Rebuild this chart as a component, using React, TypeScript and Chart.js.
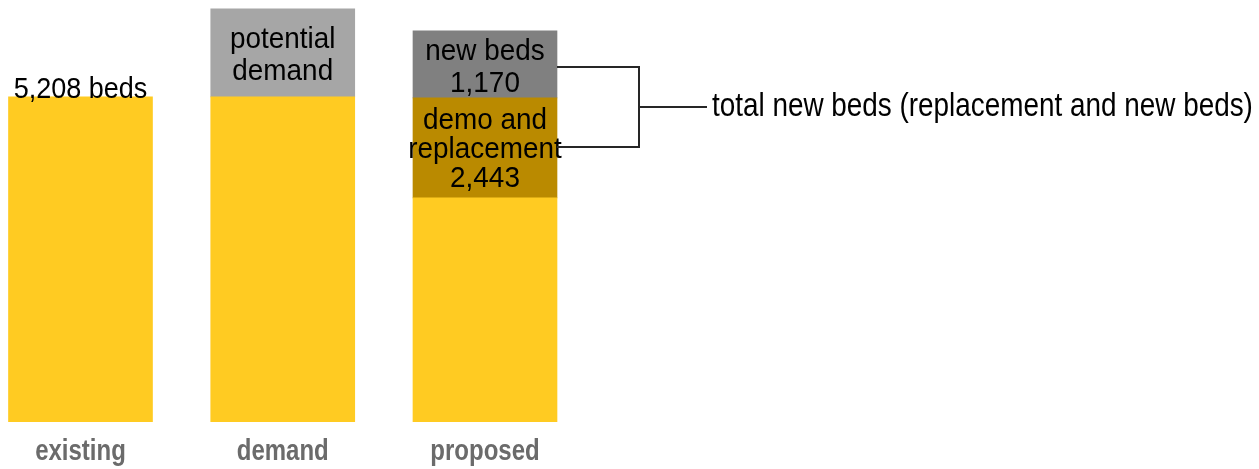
import React, { useEffect, useRef } from 'react';
import { Chart, registerables } from 'chart.js';

Chart.register(...registerables);

// ---- data ----
const categories = ['existing', 'demand', 'proposed'];
const baseBeds = [5208, 5208, 3590];          // yellow part of each bar
const potentialDemand = [null, 1410, null];   // light grey on "demand"
const demoReplacement = [null, null, 1602];   // gold on "proposed"
const newBedsValues = [null, null, 1074];     // dark grey on "proposed"

const existingLabel = '5,208 beds';
const potentialLabel = ['potential', 'demand'];
const newBedsLabel = ['new beds', '1,170'];
const demoLabel = ['demo and', 'replacement', '2,443'];
const bracketLabel = 'total new beds (replacement and new beds)';

const Y_MAX = 6760;

const COLORS = {
  base: '#FFCB22',
  potential: '#A6A6A6',
  demo: '#BA8A00',
  newBeds: '#808080',
  axis: '#6B6B6B',
  text: '#000000',
  bracket: '#262626',
};

const toPoints = (arr: (number | null)[]) =>
  arr
    .map((v, i) => (v === null ? null : { x: i, y: v }))
    .filter((p) => p !== null) as { x: number; y: number }[];

const FONT_FAMILY = '"Liberation Sans", Arial, sans-serif';
const SX = 0.93;
const TICK_SX = 0.8;

function drawText(
  ctx: CanvasRenderingContext2D,
  text: string,
  x: number,
  y: number,
  align: CanvasTextAlign,
  baseline: CanvasTextBaseline,
  sx: number = SX,
  size: number = 30,
) {
  ctx.save();
  ctx.font = `${size}px ${FONT_FAMILY}`;
  ctx.fillStyle = COLORS.text;
  ctx.textAlign = align;
  ctx.textBaseline = baseline;
  ctx.translate(x, y);
  ctx.scale(sx, 1);
  ctx.fillText(text, 0, 0);
  ctx.restore();
}

function drawBlock(ctx: CanvasRenderingContext2D, lines: string[], x: number, cy: number, lh: number) {
  const n = lines.length;
  lines.forEach((t, i) => {
    const y = cy + (i - (n - 1) / 2) * lh;
    drawText(ctx, t, x, y, 'center', 'middle');
  });
}

// condensed look for the axis labels: wrap the x scale's own label drawing
const condensedTicksPlugin = {
  id: 'condensedTicks',
  beforeDraw(chart: any) {
    const sc = chart.scales.x;
    if (!sc || sc.__condensed) return;
    const orig = sc.drawLabels;
    sc.drawLabels = function (area: any) {
      const ctx: any = this.ctx;
      const f = ctx.fillText;
      ctx.fillText = function (t: string, x: number, y: number) {
        this.save();
        this.translate(x, y);
        this.scale(TICK_SX, 1);
        f.call(this, t, 0, 0);
        this.restore();
      };
      try {
        orig.call(this, area);
      } finally {
        delete ctx.fillText;
      }
    };
    sc.__condensed = true;
  },
};

const annotatePlugin = {
  id: 'annotate',
  afterDatasetsDraw(chart: any) {
    const ctx: CanvasRenderingContext2D = chart.ctx;
    const baseEl: any = chart.getDatasetMeta(0).data[0];
    const potEl: any = chart.getDatasetMeta(1).data[0];
    const demoEl: any = chart.getDatasetMeta(2).data[0];
    const newEl: any = chart.getDatasetMeta(3).data[0];

    drawText(ctx, existingLabel, baseEl.x, baseEl.y + 1, 'center', 'alphabetic', 0.9);

    const potMid = (potEl.y + potEl.base) / 2;
    drawBlock(ctx, potentialLabel, potEl.x, potMid + 2.5, 32);

    const newMid = (newEl.y + newEl.base) / 2;
    drawBlock(ctx, newBedsLabel, newEl.x, newMid + 3.5, 32);

    const demoMid = (demoEl.y + demoEl.base) / 2;
    drawBlock(ctx, demoLabel, demoEl.x, demoMid + 2, 29);

    // bracket
    const right = newEl.x + newEl.width / 2;
    const topY = Math.round(newMid) + 3;
    const botY = Math.round(demoMid) - 1;
    const midY = Math.round((topY + botY) / 2);
    const xb = Math.round(right + 82);
    const xe = Math.round(right + 150);
    ctx.save();
    ctx.strokeStyle = COLORS.bracket;
    ctx.lineWidth = 2;
    ctx.beginPath();
    ctx.moveTo(right, topY);
    ctx.lineTo(xb, topY);
    ctx.lineTo(xb, botY);
    ctx.lineTo(right, botY);
    ctx.moveTo(xb, midY);
    ctx.lineTo(xe, midY);
    ctx.stroke();
    ctx.restore();

    drawText(ctx, bracketLabel, xe + 5, midY + 9, 'left', 'alphabetic', 0.82, 34);
  },
};

export default function App() {
  const ref = useRef<HTMLCanvasElement | null>(null);

  useEffect(() => {
    document.body.style.margin = '0';
    if (!ref.current) return;
    const chart = new Chart(ref.current, {
      type: 'bar',
      data: {
        datasets: [
          { label: 'existing beds', data: toPoints(baseBeds), backgroundColor: COLORS.base },
          { label: 'potential demand', data: toPoints(potentialDemand), backgroundColor: COLORS.potential },
          { label: 'demo and replacement', data: toPoints(demoReplacement), backgroundColor: COLORS.demo },
          { label: 'new beds', data: toPoints(newBedsValues), backgroundColor: COLORS.newBeds },
        ] as any,
      },
      options: {
        animation: false,
        responsive: true,
        maintainAspectRatio: false,
        layout: { padding: 0 },
        datasets: { bar: { barThickness: 144, borderWidth: 0 } } as any,
        plugins: {
          legend: { display: false },
          tooltip: { enabled: false },
          title: { display: false },
        },
        scales: {
          x: {
            type: 'linear',
            offset: false,
            min: -0.398,
            max: 5.827,
            stacked: true,
            grid: { display: false, drawTicks: false },
            border: { display: false },
            afterBuildTicks: (s: any) => {
              s.ticks = categories.map((_, i) => ({ value: i }));
            },
            afterFit: (s: any) => {
              s.height = 47;
            },
            ticks: {
              padding: 12,
              autoSkip: false,
              maxRotation: 0,
              color: COLORS.axis,
              font: { family: FONT_FAMILY, size: 30, weight: 'bold' },
              callback: (v: any) => categories[v as number] ?? '',
            },
          },
          y: { display: false, stacked: true, min: 0, max: Y_MAX },
        },
      } as any,
      plugins: [condensedTicksPlugin, annotatePlugin],
    });
    return () => chart.destroy();
  }, []);

  return (
    <div style={{ position: 'relative', width: 1259, height: 469 }}>
      <canvas ref={ref} />
    </div>
  );
}
